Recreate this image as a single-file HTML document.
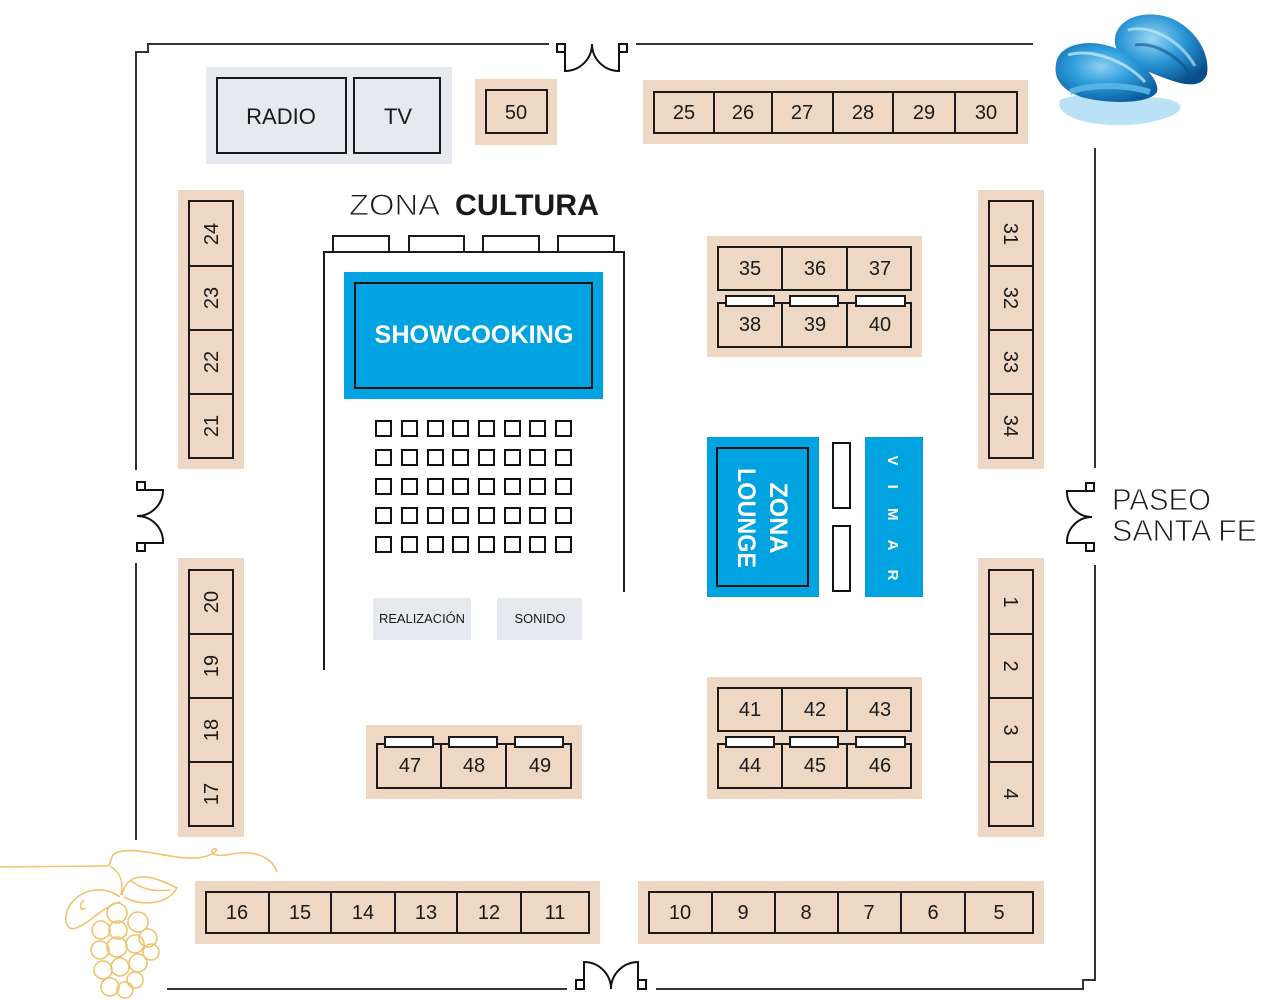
<!DOCTYPE html>
<html><head><meta charset="utf-8"><style>
html,body{margin:0;padding:0;background:#fff;}
svg{display:block;}
text{font-family:"Liberation Sans",sans-serif;}
</style></head><body>
<svg width="1261" height="1000" viewBox="0 0 1261 1000" xmlns="http://www.w3.org/2000/svg">
<defs>
<radialGradient id="sh1" cx="45%" cy="40%" r="65%"><stop offset="0" stop-color="#8fd0f2"/><stop offset="0.45" stop-color="#2f9edc"/><stop offset="1" stop-color="#0b5c9c"/></radialGradient>
<radialGradient id="sh2" cx="40%" cy="35%" r="70%"><stop offset="0" stop-color="#9ad6f4"/><stop offset="0.5" stop-color="#2a97d6"/><stop offset="1" stop-color="#0a4f8c"/></radialGradient>
</defs>

<g fill="none" stroke="#333" stroke-width="2">
<path d="M549,44 H148 V52 H136 V470"/>
<path d="M636,44 H1033"/>
<path d="M1095,148 V468"/>
<path d="M1095,565 V980 H1083 V989 H656"/>
<path d="M567,989 H167"/>
<path d="M136,563 V840"/>
</g>
<g fill="none" stroke="#111" stroke-width="2">
<rect x="557" y="44" width="8" height="8" fill="#fff"/>
<rect x="619" y="44" width="8" height="8" fill="#fff"/>
<path d="M565,52 V71 A27,27 0 0 0 592,44 A27,27 0 0 0 619,71 V52"/>
<rect x="137" y="482" width="8" height="8" fill="#fff"/>
<rect x="137" y="543" width="8" height="8" fill="#fff"/>
<path d="M145,490 H163 A26,26 0 0 1 137,516 A26,26 0 0 1 163,543 H145"/>
<rect x="1086" y="483" width="8" height="8" fill="#fff"/>
<rect x="1086" y="543" width="8" height="8" fill="#fff"/>
<path d="M1086,491 H1067 A25,25 0 0 0 1092,517 A25,25 0 0 0 1067,543 H1086"/>
<rect x="576" y="980" width="8" height="9" fill="#fff"/>
<rect x="638" y="980" width="8" height="9" fill="#fff"/>
<path d="M584,980 V962 A27,27 0 0 1 611,989 A27,27 0 0 1 638,962 V980"/>
</g>

<rect x="206" y="67" width="246" height="97" fill="#e6e9ee"/>
<g fill="none" stroke="#1a1a1a" stroke-width="2">
<rect x="217" y="78" width="129" height="75"/>
<rect x="354" y="78" width="86" height="75"/>
</g>
<text x="281" y="124" font-size="22" text-anchor="middle" fill="#1a1a1a">RADIO</text>
<text x="398" y="124" font-size="22" text-anchor="middle" fill="#1a1a1a">TV</text>

<g fill="#eed7c3">
<rect x="475" y="79" width="82" height="66"/>
<rect x="643" y="80" width="385" height="64"/>
<rect x="178" y="190" width="66" height="279"/>
<rect x="178" y="558" width="66" height="279"/>
<rect x="978" y="190" width="66" height="279"/>
<rect x="978" y="558" width="66" height="279"/>
<rect x="707" y="236" width="215" height="121"/>
<rect x="707" y="677" width="215" height="122"/>
<rect x="366" y="725" width="216" height="74"/>
<rect x="195" y="881" width="405" height="63"/>
<rect x="638" y="881" width="406" height="63"/>
</g>

<g fill="none" stroke="#1a1a1a" stroke-width="2">
<rect x="486" y="90" width="61" height="43"/>
<rect x="654" y="92" width="363" height="41"/>
<path d="M714,92V133M772,92V133M833,92V133M893,92V133M955,92V133"/>
<rect x="189" y="201" width="44" height="257"/>
<path d="M189,266H233M189,330H233M189,394H233"/>
<rect x="189" y="570" width="44" height="256"/>
<path d="M189,634H233M189,698H233M189,762H233"/>
<rect x="989" y="201" width="44" height="257"/>
<path d="M989,266H1033M989,330H1033M989,394H1033"/>
<rect x="989" y="570" width="44" height="256"/>
<path d="M989,634H1033M989,698H1033M989,762H1033"/>
<rect x="718" y="247" width="193" height="43"/>
<path d="M782,247V290M847,247V290"/>
<rect x="718" y="303" width="193" height="44"/>
<path d="M782,303V347M847,303V347"/>
<rect x="718" y="688" width="193" height="43"/>
<path d="M782,688V731M847,688V731"/>
<rect x="718" y="744" width="193" height="44"/>
<path d="M782,744V788M847,744V788"/>
<rect x="377" y="744" width="194" height="44"/>
<path d="M441,744V788M506,744V788"/>
<rect x="206" y="892" width="383" height="41"/>
<path d="M269,892V933M331,892V933M395,892V933M457,892V933M521,892V933"/>
<rect x="649" y="892" width="384" height="41"/>
<path d="M712,892V933M775,892V933M838,892V933M901,892V933M965,892V933"/>
</g>
<g fill="#fff" stroke="#1a1a1a" stroke-width="2">
<rect x="726" y="296" width="48" height="10"/>
<rect x="790" y="296" width="48" height="10"/>
<rect x="856" y="296" width="49" height="10"/>
<rect x="726" y="737" width="48" height="10"/>
<rect x="790" y="737" width="48" height="10"/>
<rect x="856" y="737" width="49" height="10"/>
<rect x="385" y="737" width="48" height="10"/>
<rect x="449" y="737" width="48" height="10"/>
<rect x="515" y="737" width="48" height="10"/>
</g>

<g font-size="20" fill="#1a1a1a" text-anchor="middle">
<text x="516" y="119">50</text>
<text x="684" y="119">25</text><text x="743" y="119">26</text><text x="802" y="119">27</text><text x="863" y="119">28</text><text x="924" y="119">29</text><text x="986" y="119">30</text>
<text x="750" y="275">35</text><text x="815" y="275">36</text><text x="880" y="275">37</text>
<text x="750" y="331">38</text><text x="815" y="331">39</text><text x="880" y="331">40</text>
<text x="750" y="716">41</text><text x="815" y="716">42</text><text x="880" y="716">43</text>
<text x="750" y="772">44</text><text x="815" y="772">45</text><text x="880" y="772">46</text>
<text x="410" y="772">47</text><text x="474" y="772">48</text><text x="540" y="772">49</text>
<text x="237" y="919">16</text><text x="300" y="919">15</text><text x="363" y="919">14</text><text x="426" y="919">13</text><text x="489" y="919">12</text><text x="555" y="919">11</text>
<text x="680" y="919">10</text><text x="743" y="919">9</text><text x="806" y="919">8</text><text x="869" y="919">7</text><text x="933" y="919">6</text><text x="999" y="919">5</text>
<text transform="translate(218,234) rotate(-90)">24</text>
<text transform="translate(218,298) rotate(-90)">23</text>
<text transform="translate(218,362) rotate(-90)">22</text>
<text transform="translate(218,426) rotate(-90)">21</text>
<text transform="translate(218,602) rotate(-90)">20</text>
<text transform="translate(218,666) rotate(-90)">19</text>
<text transform="translate(218,730) rotate(-90)">18</text>
<text transform="translate(218,794) rotate(-90)">17</text>
<text transform="translate(1004,234) rotate(90)">31</text>
<text transform="translate(1004,298) rotate(90)">32</text>
<text transform="translate(1004,362) rotate(90)">33</text>
<text transform="translate(1004,426) rotate(90)">34</text>
<text transform="translate(1004,602) rotate(90)">1</text>
<text transform="translate(1004,666) rotate(90)">2</text>
<text transform="translate(1004,730) rotate(90)">3</text>
<text transform="translate(1004,794) rotate(90)">4</text>
</g>

<text x="349" y="215" font-size="30" fill="#1a1a1a" stroke="#fff" stroke-width="0.9" textLength="91" lengthAdjust="spacingAndGlyphs">ZONA</text>
<text x="455" y="215" font-size="30" fill="#1a1a1a" font-weight="bold" textLength="144" lengthAdjust="spacingAndGlyphs">CULTURA</text>
<g fill="none" stroke="#1a1a1a" stroke-width="2">
<rect x="333" y="236" width="56" height="16"/>
<rect x="409" y="236" width="55" height="16"/>
<rect x="483" y="236" width="56" height="16"/>
<rect x="558" y="236" width="56" height="16"/>
<path d="M324,670 V252 H624 V592"/>
</g>
<rect x="344" y="272" width="259" height="127" fill="#00a3df"/>
<rect x="355" y="283" width="237" height="105" fill="none" stroke="#111" stroke-width="2"/>
<text x="474" y="343" font-size="25" font-weight="bold" fill="#fff" text-anchor="middle" textLength="199" lengthAdjust="spacingAndGlyphs">SHOWCOOKING</text>

<g fill="none" stroke="#111" stroke-width="2">
<g id="row">
<rect x="376" y="421" width="15" height="15"/><rect x="402" y="421" width="15" height="15"/><rect x="428" y="421" width="15" height="15"/><rect x="453" y="421" width="15" height="15"/><rect x="479" y="421" width="15" height="15"/><rect x="505" y="421" width="15" height="15"/><rect x="530" y="421" width="15" height="15"/><rect x="556" y="421" width="15" height="15"/>
</g>
<use href="#row" y="29"/>
<use href="#row" y="58"/>
<use href="#row" y="87"/>
<use href="#row" y="116"/>
</g>

<rect x="373" y="598" width="98" height="42" fill="#e6e9ee"/>
<rect x="497" y="598" width="85" height="42" fill="#e6e9ee"/>
<text x="422" y="623" font-size="13" fill="#1a1a1a" text-anchor="middle" textLength="86" lengthAdjust="spacingAndGlyphs">REALIZACIÓN</text>
<text x="540" y="623" font-size="13" fill="#1a1a1a" text-anchor="middle" textLength="51" lengthAdjust="spacingAndGlyphs">SONIDO</text>

<rect x="707" y="437" width="112" height="160" fill="#00a3df"/>
<rect x="717" y="448" width="91" height="138" fill="none" stroke="#111" stroke-width="2"/>
<text transform="translate(770,518) rotate(90)" font-size="25" font-weight="bold" fill="#fff" text-anchor="middle" textLength="71" lengthAdjust="spacingAndGlyphs">ZONA</text>
<text transform="translate(738,518) rotate(90)" font-size="25" font-weight="bold" fill="#fff" text-anchor="middle" textLength="100" lengthAdjust="spacingAndGlyphs">LOUNGE</text>
<g fill="#fff" stroke="#111" stroke-width="2">
<rect x="833" y="443" width="17" height="65"/>
<rect x="833" y="526" width="17" height="65"/>
</g>
<rect x="865" y="437" width="58" height="160" fill="#00a3df"/>
<text transform="translate(888,518) rotate(90)" font-size="15" font-weight="bold" fill="#fff" text-anchor="middle" textLength="125" lengthAdjust="spacing">VIMAR</text>

<g font-size="31" fill="#1a1a1a" stroke="#fff" stroke-width="0.9">
<text x="1112" y="510" textLength="99" lengthAdjust="spacingAndGlyphs">PASEO</text>
<text x="1112" y="541" textLength="145" lengthAdjust="spacingAndGlyphs">SANTA FE</text>
</g>

<g>
<path d="M1060,100 C1075,92 1120,94 1160,98 C1180,100 1186,108 1175,114 C1160,122 1130,128 1100,124 C1075,122 1055,112 1060,100 Z" fill="#a9dbf4" opacity="0.8"/>
<path d="M1115,38 C1118,16 1150,8 1175,20 C1198,32 1210,55 1207,74 C1203,86 1190,87 1170,80 C1142,70 1112,58 1115,38 Z" fill="url(#sh2)"/>
<path d="M1128,30 C1150,24 1180,40 1195,66" stroke="#d4f0fd" stroke-width="3" fill="none" opacity="0.6"/>
<path d="M1135,45 C1155,42 1178,56 1190,74" stroke="#0a4f8c" stroke-width="3" fill="none" opacity="0.6"/>
<path d="M1056,64 C1058,44 1090,36 1120,50 C1142,62 1160,80 1157,92 C1150,104 1110,104 1085,98 C1064,92 1053,80 1056,64 Z" fill="url(#sh1)"/>
<path d="M1068,55 C1090,48 1125,60 1145,82" stroke="#d4f0fd" stroke-width="3" fill="none" opacity="0.7"/>
<path d="M1070,92 C1090,84 1125,84 1150,92" stroke="#5ab6e8" stroke-width="6" fill="none" opacity="0.9"/>
</g>

<g fill="none" stroke="#eec46c" stroke-width="1.6">
<path d="M0,867 L105,866 C114,866 108,856 116,853 C132,846 160,856 186,858 C200,859 210,856 215,852 C219,849 214,847 212,851 C211,856 222,856 232,854 C252,850 272,856 277,872"/>
<path d="M110,866 C120,872 124,882 121,895"/>
<path d="M120,897 C102,884 80,890 70,905 C62,918 66,932 76,928 C92,922 100,908 120,902"/>
<path d="M84,900 C78,904 80,912 86,908"/>
<path d="M122,895 C128,870 150,874 177,888 C166,906 140,906 124,897"/>
<path d="M130,880 C140,888 150,892 170,890"/>
<circle cx="117" cy="913" r="10"/>
<circle cx="101" cy="930" r="9"/>
<circle cx="118" cy="930" r="9"/>
<circle cx="138" cy="922" r="10"/>
<circle cx="148" cy="938" r="9"/>
<circle cx="100" cy="950" r="9"/>
<circle cx="117" cy="947" r="10"/>
<circle cx="135" cy="944" r="9"/>
<circle cx="151" cy="952" r="8"/>
<circle cx="103" cy="970" r="9"/>
<circle cx="120" cy="967" r="9"/>
<circle cx="138" cy="963" r="9"/>
<circle cx="110" cy="987" r="9"/>
<circle cx="125" cy="990" r="8"/>
<circle cx="135" cy="980" r="8"/>
</g>
</svg>
</body></html>
